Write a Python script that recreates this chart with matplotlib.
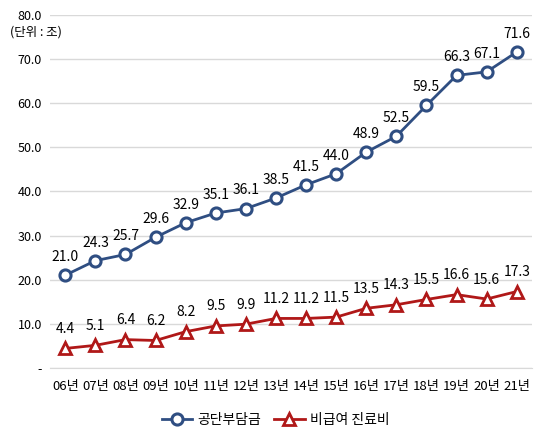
import matplotlib.pyplot as plt

plt.rcParams['font.family'] = ['Noto Sans CJK KR', 'DejaVu Sans']

years = ['06년', '07년', '08년', '09년', '10년', '11년', '12년', '13년',
         '14년', '15년', '16년', '17년', '18년', '19년', '20년', '21년']
public = [21.0, 24.3, 25.7, 29.6, 32.9, 35.1, 36.1, 38.5,
          41.5, 44.0, 48.9, 52.5, 59.5, 66.3, 67.1, 71.6]
noncovered = [4.4, 5.1, 6.4, 6.2, 8.2, 9.5, 9.9, 11.2,
              11.2, 11.5, 13.5, 14.3, 15.5, 16.6, 15.6, 17.3]
yticks = [0, 10, 20, 30, 40, 50, 60, 70, 80]
ytick_labels = ['-', '10.0', '20.0', '30.0', '40.0', '50.0', '60.0', '70.0', '80.0']

blue = '#2F4E82'
red = '#B01818'

fig = plt.figure(figsize=(5.46, 4.4), dpi=100)
ax = fig.add_axes([0.092, 0.164, 0.882, 0.802])

x = list(range(len(years)))
ax.plot(x, public, color=blue, lw=2, marker='o', ms=8, mfc='white',
        mec=blue, mew=2.2, label='공단부담금', zorder=3)
ax.plot(x, noncovered, color=red, lw=2, marker='^', ms=9, mfc='white',
        mec=red, mew=2, label='비급여 진료비', zorder=3)

for i in x:
    ax.annotate(f'{public[i]:.1f}', (i, public[i]), xytext=(0, 8),
                textcoords='offset points', ha='center', va='bottom', fontsize=10)
    ax.annotate(f'{noncovered[i]:.1f}', (i, noncovered[i]), xytext=(0, 9),
                textcoords='offset points', ha='center', va='bottom', fontsize=10)

ax.set_xlim(-0.5, len(years) - 0.5)
ax.set_ylim(0, 80)
ax.set_xticks(x)
ax.set_xticklabels(years, fontsize=9.5)
ax.set_yticks(yticks)
ax.set_yticklabels(ytick_labels, fontsize=9)
ax.tick_params(length=0, pad=6)
ax.tick_params(axis='x', pad=9)
ax.grid(axis='y', color='#D9D9D9', lw=1)
ax.set_axisbelow(True)
for s in ['top', 'right', 'left']:
    ax.spines[s].set_visible(False)
ax.spines['bottom'].set_color('#D9D9D9')

fig.text(0.018, 0.927, '(단위 : 조)', fontsize=9, va='center')

fig.legend(loc='center', bbox_to_anchor=(0.505, 0.045), ncol=2, frameon=False,
           fontsize=10, handlelength=2.2, handletextpad=0.4, columnspacing=0.9)

fig.savefig('out.png', dpi=100)
